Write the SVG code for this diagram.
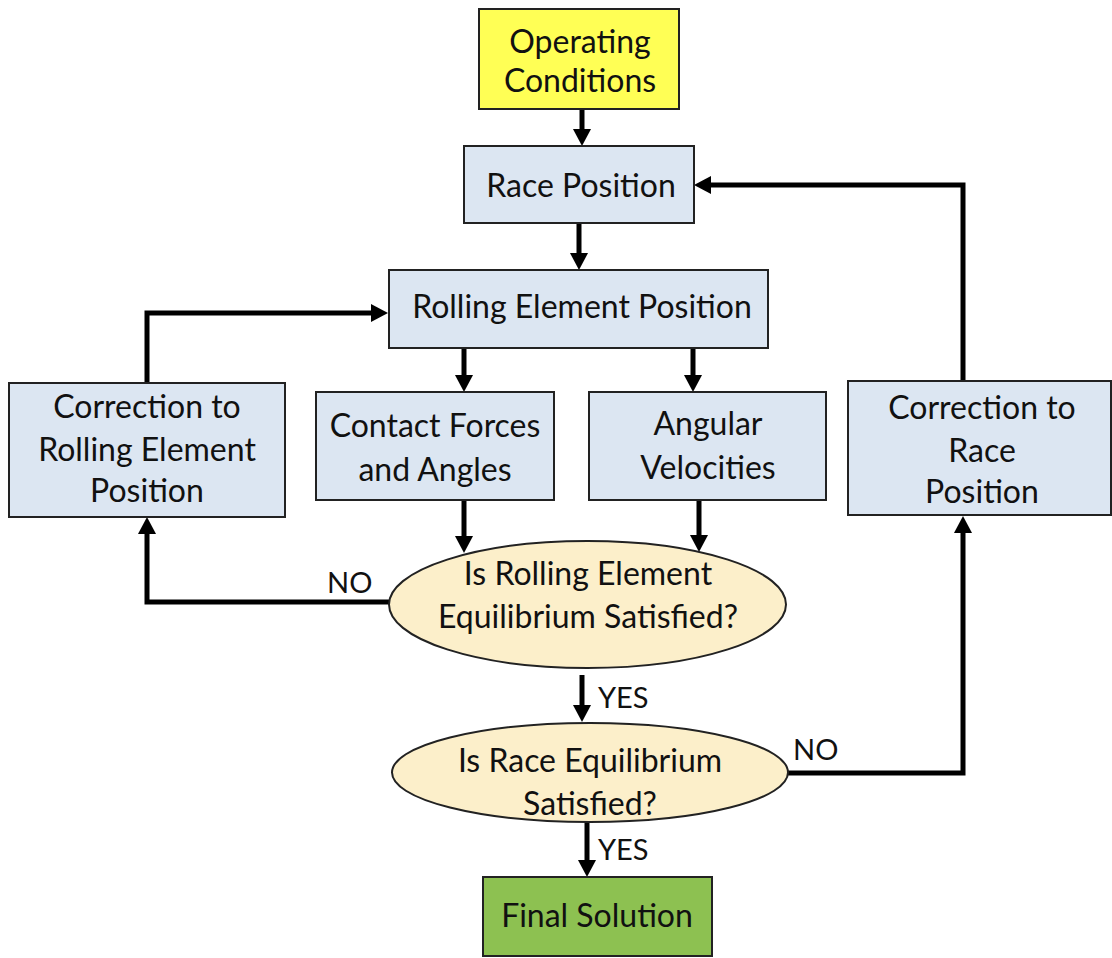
<svg xmlns="http://www.w3.org/2000/svg" width="1112" height="958" viewBox="0 0 1112 958">
  <style>
    .box { stroke: #222; stroke-width: 2; }
    .blue { fill: #dce6f2; }
    .cream { fill: #fcefca; stroke: #222; stroke-width: 2; }
    .t { font-family: Lato, "Liberation Sans", sans-serif; font-size: 32px; fill: #111; text-anchor: middle; }
    .lbl { font-family: Lato, "Liberation Sans", sans-serif; font-size: 29px; fill: #111; }
    .conn { fill: none; stroke: #000; stroke-width: 5; marker-end: url(#ah); }
  </style>
  <defs>
    <marker id="ah" viewBox="0 0 17 18" refX="0" refY="9" markerWidth="17" markerHeight="18" markerUnits="userSpaceOnUse" orient="auto">
      <path d="M0,0 L17,9 L0,18 z" fill="#000"/>
    </marker>
  </defs>
  <rect width="1112" height="958" fill="#fff"/>

  <g id="connectors">
    <path class="conn" d="M582,109 V129"/>
    <path class="conn" d="M579,223 V253"/>
    <path class="conn" d="M464,348 V375"/>
    <path class="conn" d="M693,348 V375"/>
    <path class="conn" d="M464,500 V536"/>
    <path class="conn" d="M699,500 V535"/>
    <path class="conn" d="M389,602 H147 V534"/>
    <path class="conn" d="M147,383 V313 H371"/>
    <path class="conn" d="M963,381 V185 H711"/>
    <path class="conn" d="M788,773 H963 V533"/>
    <path class="conn" d="M582,675 V705"/>
    <path class="conn" d="M587,822 V860"/>
    <text class="lbl" x="327" y="593">NO</text>
    <text class="lbl" x="793" y="760">NO</text>
    <text class="lbl" x="598" y="708">YES</text>
    <text class="lbl" x="598" y="860">YES</text>
  </g>

  <g id="operating-conditions">
    <rect class="box" x="479" y="9" width="200" height="100" fill="#ffff55"/>
    <text class="t" x="580" y="53">Operating</text>
    <text class="t" x="580" y="92">Conditions</text>
  </g>
  <g id="race-position">
    <rect class="box blue" x="464" y="146" width="230" height="77"/>
    <text class="t" x="581" y="197">Race Position</text>
  </g>
  <g id="rolling-element-position">
    <rect class="box blue" x="389" y="270" width="379" height="78"/>
    <text class="t" x="582" y="318">Rolling Element Position</text>
  </g>
  <g id="correction-rolling">
    <rect class="box blue" x="9" y="383" width="276" height="134"/>
    <text class="t" x="147" y="418">Correction to</text>
    <text class="t" x="147" y="461">Rolling Element</text>
    <text class="t" x="147" y="502">Position</text>
  </g>
  <g id="contact-forces">
    <rect class="box blue" x="316" y="392" width="238" height="108"/>
    <text class="t" x="435" y="437">Contact Forces</text>
    <text class="t" x="435" y="481">and Angles</text>
  </g>
  <g id="angular-velocities">
    <rect class="box blue" x="589" y="392" width="237" height="108"/>
    <text class="t" x="708" y="435">Angular</text>
    <text class="t" x="708" y="479">Velocities</text>
  </g>
  <g id="correction-race">
    <rect class="box blue" x="848" y="381" width="263" height="134"/>
    <text class="t" x="982" y="419">Correction to</text>
    <text class="t" x="982" y="462">Race</text>
    <text class="t" x="982" y="503">Position</text>
  </g>
  <g id="rolling-equilibrium">
    <ellipse class="cream" cx="587.5" cy="604.5" rx="198.5" ry="63.5"/>
    <text class="t" x="588" y="585">Is Rolling Element</text>
    <text class="t" x="588" y="628">Equilibrium Satisfied?</text>
  </g>
  <g id="race-equilibrium">
    <ellipse class="cream" cx="590" cy="772.5" rx="198" ry="49.5"/>
    <text class="t" x="590" y="772">Is Race Equilibrium</text>
    <text class="t" x="590" y="815">Satisfied?</text>
  </g>
  <g id="final-solution">
    <rect class="box" x="483" y="877" width="229" height="79" fill="#8dc151"/>
    <text class="t" x="597" y="927">Final Solution</text>
  </g>
</svg>
